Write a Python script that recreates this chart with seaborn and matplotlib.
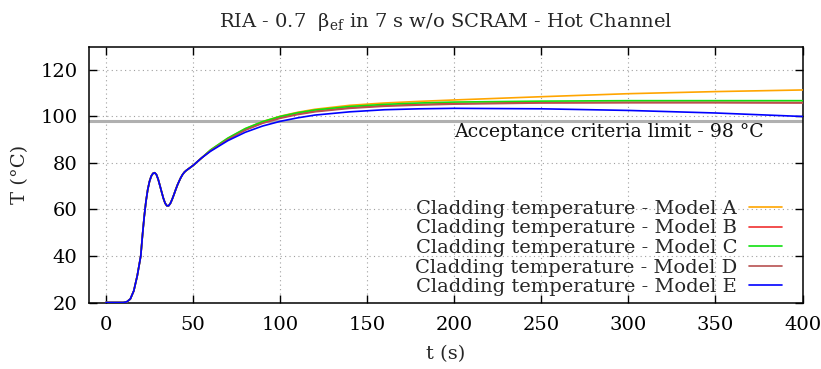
import numpy as np
import pandas as pd
import matplotlib
matplotlib.use("Agg")
import matplotlib.pyplot as plt
import seaborn as sns

# Time (s) and cladding temperature (°C) for the hot channel
t_common = [0, 10, 12, 14, 16, 18, 20, 21, 22, 23, 24, 25, 26, 27, 28, 29, 30,
            31, 32, 33, 34, 35, 36, 37, 38, 39, 40, 41, 42, 43, 44, 45, 46, 48,
            50, 55]
T_common = [20.0, 20.0, 20.3, 21.5, 25.0, 31.5, 40.0, 49.0, 57.0, 63.5, 68.5,
            72.0, 74.3, 75.5, 75.8, 75.0, 73.0, 70.3, 67.5, 64.8, 62.7, 61.6,
            61.6, 62.6, 64.3, 66.3, 68.4, 70.4, 72.1, 73.7, 75.0, 76.0, 76.7,
            77.8, 78.9, 82.2]

t_late = [60, 70, 80, 90, 100, 110, 120, 140, 160, 180, 200, 250, 300, 350, 400]
T_model_a = [85.5, 90.6, 94.7, 97.8, 100.1, 101.8, 103.1, 104.8, 105.8, 106.5,
             107.1, 108.5, 109.8, 110.7, 111.4]
T_model_b = [85.3, 90.3, 94.3, 97.3, 99.5, 101.1, 102.3, 103.8, 104.7, 105.2,
             105.6, 106.0, 106.1, 106.1, 106.0]
T_model_c = [85.6, 90.7, 94.8, 97.8, 100.0, 101.6, 102.8, 104.3, 105.2, 105.8,
             106.2, 106.6, 106.8, 106.8, 106.8]
T_model_d = [85.2, 90.1, 94.1, 97.1, 99.2, 100.8, 102.0, 103.5, 104.4, 104.9,
             105.3, 105.8, 105.9, 105.9, 105.8]
T_model_e = [85.0, 89.6, 93.2, 95.9, 97.9, 99.4, 100.6, 102.0, 102.9, 103.3,
             103.5, 103.3, 102.6, 101.5, 100.0]

models = ["A", "B", "C", "D", "E"]
late_values = [T_model_a, T_model_b, T_model_c, T_model_d, T_model_e]
colors = ["#ffa500", "#f03030", "#10e010", "#b85050", "#0000ff"]
limit_T = 98

sns.set_theme(style="ticks")
plt.rcParams["font.family"] = ["DejaVu Serif"]
plt.rcParams["mathtext.fontset"] = "dejavuserif"
FS = 14

frames = []
for m, vals in zip(models, late_values):
    frames.append(pd.DataFrame({
        "t": t_common + t_late,
        "T": T_common + vals,
        "label": f"Cladding temperature - Model {m}",
    }))
df = pd.concat(frames, ignore_index=True)

fig = plt.figure(figsize=(8.21, 3.69), dpi=100)
ax = fig.add_axes([0.1078, 0.1802, 0.8697, 0.6932])

ax.axhline(limit_T, color="#b0b0b0", lw=2.2, zorder=1)
ax.text(200, 93.3, "Acceptance criteria limit - 98 °C", fontsize=13.6,
        va="center", ha="left", color="#111111")

sns.lineplot(data=df, x="t", y="T", hue="label", palette=colors, ax=ax,
             linewidth=1.2, sort=False, zorder=3)

ax.set_xlim(-10, 400)
ax.set_ylim(20, 130)
ax.set_xticks(np.arange(0, 401, 50))
ax.set_yticks(np.arange(20, 121, 20))
ax.grid(True, color="#a0a0a0", linestyle=(0, (1, 3)), linewidth=0.8)
ax.tick_params(direction="in", length=6, width=1, top=True, right=True,
               labelsize=FS, colors="black")
ax.tick_params(axis="x", pad=10)
ax.tick_params(axis="y", pad=8)
for s in ax.spines.values():
    s.set_visible(True)
    s.set_color("black")
    s.set_linewidth(1.1)

ax.set_xlabel("t (s)", fontsize=FS, labelpad=8)
ax.set_ylabel("T (°C)", fontsize=FS, labelpad=8)
ax.set_title(r"RIA - 0.7  β$_{\mathrm{ef}}$ in 7 s w/o SCRAM - Hot Channel",
             fontsize=FS, pad=14)

leg = ax.legend(loc="lower right", frameon=False, markerfirst=False,
                fontsize=FS, handlelength=1.7, labelspacing=0.08,
                borderaxespad=0.0, borderpad=0.0, handletextpad=0.6,
                bbox_to_anchor=(0.971, 0.025))
for txt in leg.get_texts():
    txt.set_ha("right")

fig.savefig("out.png", dpi=100)
